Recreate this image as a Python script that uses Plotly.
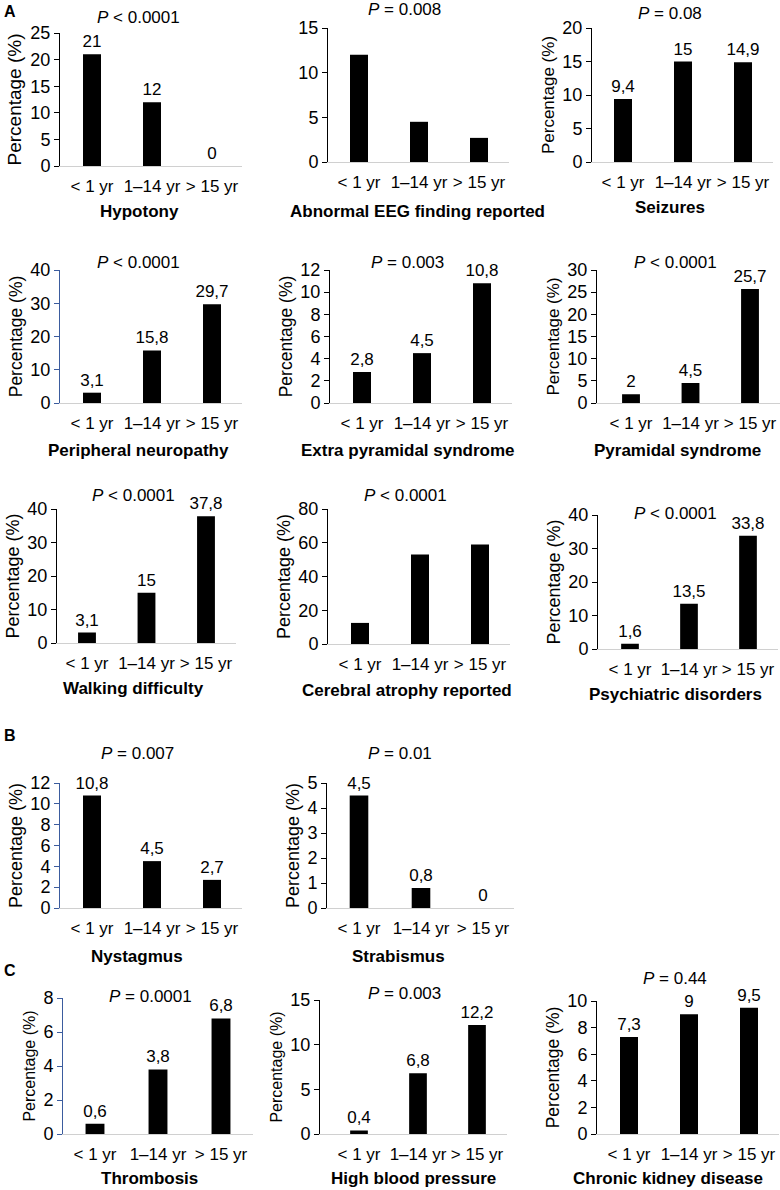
import plotly.graph_objects as go

# ---------------- data ----------------
categories = ["< 1 yr", "1–14 yr", "> 15 yr"]

hypotony = [21, 12, 0]
abnormal_eeg = [12, 4.5, 2.7]
seizures = [9.4, 15, 14.9]
peripheral_neuropathy = [3.1, 15.8, 29.7]
extra_pyramidal = [2.8, 4.5, 10.8]
pyramidal = [2, 4.5, 25.7]
walking_difficulty = [3.1, 15, 37.8]
cerebral_atrophy = [12.5, 53, 59]
psychiatric = [1.6, 13.5, 33.8]
nystagmus = [10.8, 4.5, 2.7]
strabismus = [4.5, 0.8, 0]
thrombosis = [0.6, 3.8, 6.8]
high_blood_pressure = [0.4, 6.8, 12.2]
chronic_kidney = [7.3, 9, 9.5]

panel_titles = ["Hypotony", "Abnormal EEG finding reported", "Seizures",
                "Peripheral neuropathy", "Extra pyramidal syndrome", "Pyramidal syndrome",
                "Walking difficulty", "Cerebral atrophy reported", "Psychiatric disorders",
                "Nystagmus", "Strabismus",
                "Thrombosis", "High blood pressure", "Chronic kidney disease"]
p_values = ["< 0.0001", "= 0.008", "= 0.08",
            "< 0.0001", "= 0.003", "< 0.0001",
            "< 0.0001", "< 0.0001", "< 0.0001",
            "= 0.007", "= 0.01",
            "= 0.0001", "= 0.003", "= 0.44"]
series = [hypotony, abnormal_eeg, seizures,
          peripheral_neuropathy, extra_pyramidal, pyramidal,
          walking_difficulty, cerebral_atrophy, psychiatric,
          nystagmus, strabismus,
          thrombosis, high_blood_pressure, chronic_kidney]
show_values = [True, False, True, True, True, True, True, False, True,
               True, True, True, True, True]
show_ytitle = [True, False, True, True, True, True, True, True, True,
               True, True, True, True, True]
y_max = [25, 15, 20, 40, 12, 30, 40, 80, 40, 12, 5, 8, 15, 10]
y_dtick = [5, 5, 5, 10, 2, 5, 10, 20, 10, 2, 1, 2, 5, 2]

# ---------------- geometry (pixels) ----------------
W, H = 780, 1190
# xa: y-axis x, c0: first bar centre, s: category spacing, y0: zero line, yt: top tick
geom = [
    dict(xa=60, c0=92, s=60, y0=166, yt=33, px=138, py=18, tx=139, ty=211, blue=False, yf=19),
    dict(xa=328, c0=359, s=60, y0=162, yt=28, px=404, py=10, tx=417, ty=211, blue=False, yf=17),
    dict(xa=592, c0=623, s=60, y0=162, yt=28, px=670, py=14, tx=670, ty=207, blue=False, yf=17),
    dict(xa=60, c0=92, s=60, y0=403, yt=270, px=138, py=262, tx=138, ty=450, blue=True, yf=17.5),
    dict(xa=330, c0=362, s=60, y0=403, yt=270, px=407, py=262, tx=408, ty=450, blue=False, yf=17.5),
    dict(xa=597, c0=631, s=59.5, y0=403, yt=270, px=675, py=262, tx=677, ty=450, blue=False, yf=17),
    dict(xa=57, c0=87, s=59.5, y0=643, yt=509, px=133, py=495, tx=133, ty=688, blue=False, yf=18),
    dict(xa=328, c0=360, s=60, y0=644, yt=509, px=405, py=495, tx=407, ty=690, blue=False, yf=18),
    dict(xa=598, c0=630, s=59, y0=649, yt=515, px=675, py=513, tx=675, ty=694, blue=False, yf=18),
    dict(xa=60, c0=92, s=60, y0=908, yt=783, px=137, py=753, tx=137, ty=956, blue=True, yf=18),
    dict(xa=327, c0=359, s=62, y0=908, yt=783, px=400, py=753, tx=398, ty=956, blue=False, yf=18),
    dict(xa=63, c0=95, s=63, y0=1134, yt=998, px=150, py=996, tx=149, ty=1178, blue=True, yf=16),
    dict(xa=320, c0=359, s=59, y0=1134, yt=1000, px=404, py=993, tx=413, ty=1178, blue=False, yf=16),
    dict(xa=597, c0=629, s=60, y0=1134, yt=1001, px=675, py=978, tx=668, ty=1178, blue=False, yf=17.5),
]

FONT = "Liberation Sans, Arial, sans-serif"
BLUE = "#3B5C9E"
FS = 17

fig = go.Figure()
annotations = []

def fmt(v):
    return f"{v:g}".replace(".", ",")

for i, (vals, g) in enumerate(zip(series, geom)):
    n = i + 1
    xs = "x" if n == 1 else f"x{n}"
    ys = "y" if n == 1 else f"y{n}"
    xk = "xaxis" if n == 1 else f"xaxis{n}"
    yk = "yaxis" if n == 1 else f"yaxis{n}"
    fig.add_trace(go.Bar(
        x=categories, y=vals, xaxis=xs, yaxis=ys,
        marker=dict(color="black", line=dict(width=0)),
        width=0.3,
        text=[fmt(v) for v in vals] if show_values[i] else None,
        textposition="outside", cliponaxis=False, constraintext="none",
        textfont=dict(size=FS, color="black", family=FONT),
        showlegend=False, hoverinfo="x+y",
    ))
    x_left, x_right = g["xa"], g["c0"] + 2.5 * g["s"]
    r0 = -(g["c0"] - g["xa"]) / g["s"]
    axcol = BLUE if g["blue"] else "black"
    fig.layout[xk] = dict(
        domain=[x_left / W, x_right / W], range=[r0, 2.5], anchor=ys,
        showline=True, linecolor="#d0d0d0", linewidth=1.3, showgrid=False,
        zeroline=False, ticks="outside", ticklen=4, tickcolor="rgba(0,0,0,0)",
        tickfont=dict(size=FS, color="black", family=FONT), fixedrange=True,
        automargin=False,
    )
    fig.layout[yk] = dict(
        domain=[1 - g["y0"] / H, 1 - g["yt"] / H], range=[0, y_max[i]], anchor=xs,
        dtick=y_dtick[i], showline=True, linecolor=axcol, linewidth=1,
        ticks="outside", ticklen=5, tickcolor=axcol, showgrid=False, zeroline=False,
        tickfont=dict(size=FS + 1, color="black", family=FONT),
        title=dict(text="Percentage (%)" if show_ytitle[i] else "",
                   font=dict(size=g["yf"], color="black", family=FONT), standoff=3),
        fixedrange=True, automargin=False,
    )
    annotations.append(dict(
        x=g["px"] / W, y=1 - g["py"] / H, xref="paper", yref="paper",
        text=f"<i>P</i> {p_values[i].replace('<', '&lt;')}", showarrow=False,
        xanchor="center", yanchor="middle", font=dict(size=FS, color="black", family=FONT),
    ))
    annotations.append(dict(
        x=g["tx"] / W, y=1 - g["ty"] / H, xref="paper", yref="paper",
        text=f"<b>{panel_titles[i]}</b>", showarrow=False,
        xanchor="center", yanchor="middle", font=dict(size=FS, color="black", family=FONT),
    ))

for letter, ly in [("A", 12), ("B", 735), ("C", 970)]:
    annotations.append(dict(
        x=2 / W, y=1 - ly / H, xref="paper", yref="paper", text=f"<b>{letter}</b>",
        showarrow=False, xanchor="left", yanchor="middle",
        font=dict(size=16, color="black", family=FONT),
    ))

fig.update_layout(
    width=W, height=H, margin=dict(l=0, r=0, t=0, b=0, pad=0, autoexpand=False),
    paper_bgcolor="white", plot_bgcolor="white",
    annotations=annotations, bargap=0.7,
    font=dict(family=FONT, color="black"),
)

fig.write_html("out.html", config={"displayModeBar": False},
               post_script="document.body.style.margin='0';document.body.style.overflow='hidden';")
